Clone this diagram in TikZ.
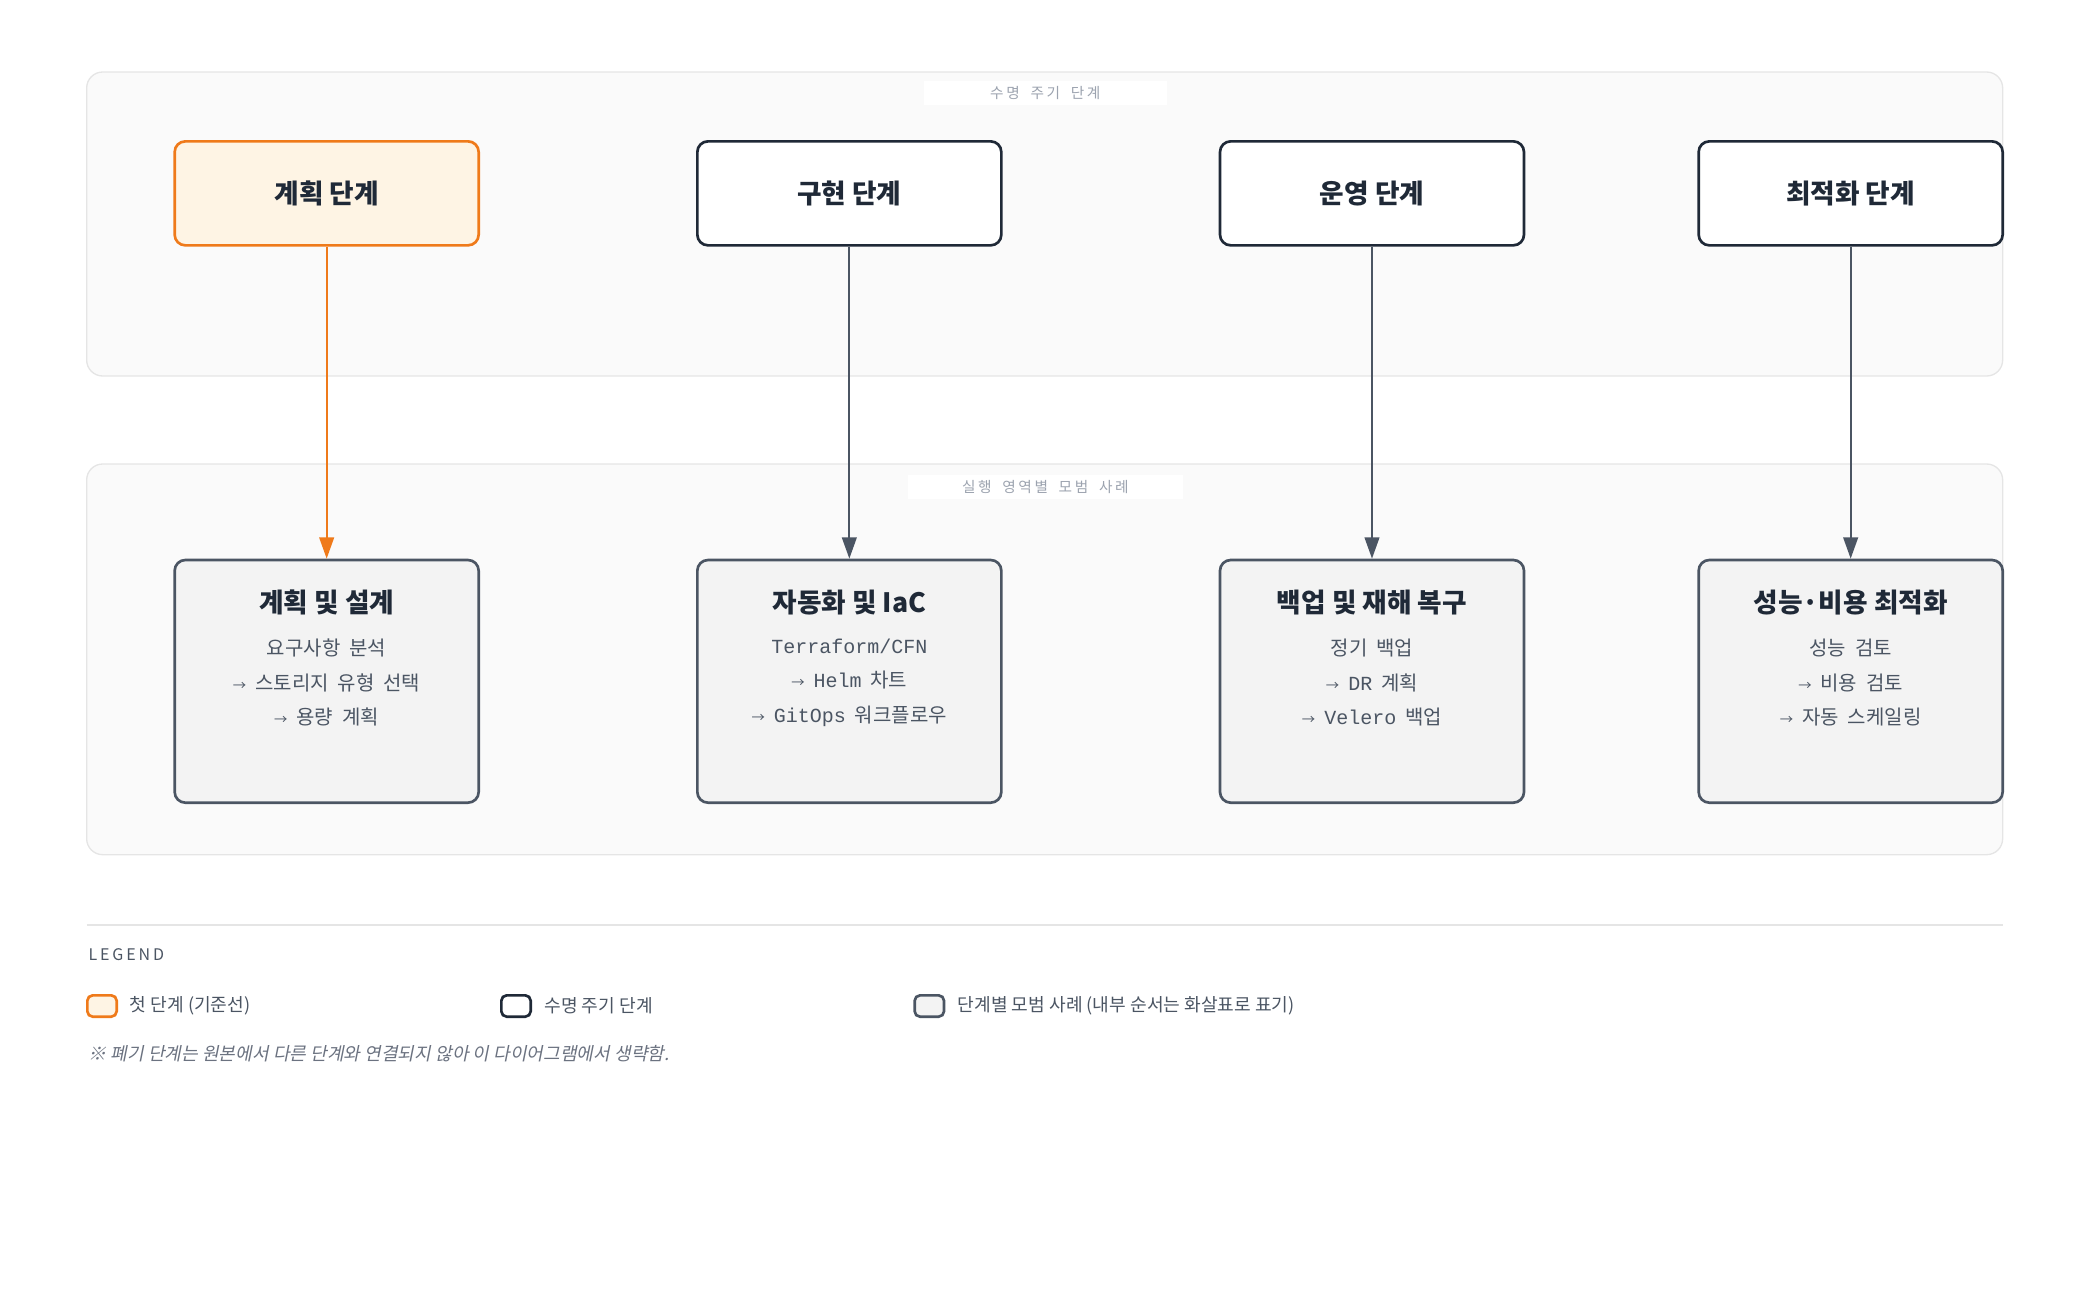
\documentclass[tikz,border=0pt]{standalone}
\usepackage{fontspec}
\setmainfont{Noto Sans CJK KR}
\newfontfamily\mono{Liberation Mono}
\newfontfamily\spaced[LetterSpace=18,WordSpace=1.8]{Noto Sans CJK KR}
\newfontfamily\wide[WordSpace=2]{Noto Sans CJK KR}
\newfontfamily\slanted[FakeSlant=0.2]{Noto Sans CJK KR}
\newcommand\nextstep{{\fontsize{5}{6}\selectfont →}\ }
\usetikzlibrary{arrows.meta}
\definecolor{panelfill}{HTML}{FAFAFA}
\definecolor{panelline}{HTML}{E5E5E5}
\definecolor{orangeline}{HTML}{EF7A1A}
\definecolor{orangefill}{HTML}{FEF4E4}
\definecolor{darkline}{HTML}{1F2937}
\definecolor{grayline}{HTML}{4B5563}
\definecolor{grayfill}{HTML}{F3F3F3}
\definecolor{labeltext}{HTML}{9CA3AF}
\definecolor{bodytext}{HTML}{4B5563}
\definecolor{notetext}{HTML}{6B7280}

\begin{document}
\begin{tikzpicture}[x=0.5pt,y=-0.5pt,
		phase/.style={draw=darkline, line width=1pt, fill=white, rounded corners=4pt, minimum width=114pt, minimum height=39pt, text=darkline, font=\bfseries\fontsize{10}{12}\selectfont},
		first/.style={phase, draw=orangeline, fill=orangefill},
		practice/.style={draw=grayline, line width=1pt, fill=grayfill, rounded corners=4pt, minimum width=114pt, minimum height=91pt},
		title/.style={text=darkline, font=\bfseries\fontsize{10}{12}\selectfont},
		body/.style={text=bodytext, align=center, font=\wide\fontsize{7.5}{13}\selectfont},
		panel/.style={draw=panelline, line width=0.5pt, fill=panelfill, rounded corners=6pt},
		tag/.style={fill=white, minimum width=91pt, minimum height=9pt, inner sep=0pt, text=labeltext, font=\spaced\fontsize{5.5}{6}\selectfont},
		flow/.style={-{Triangle[length=8pt,width=5.5pt]}, line width=0.8pt, draw=grayline},
		swatch/.style={line width=1pt, rounded corners=2pt, minimum width=11pt, minimum height=8pt, inner sep=0pt},
		legendtext/.style={anchor=west, text=bodytext, font=\fontsize{6.8}{8}\selectfont}]
				\useasboundingbox (0,0) rectangle (1560,976);
				% panels
				\draw[panel] (65,54) rectangle (1502,282);
				\draw[panel] (65,348) rectangle (1502,641);
				\node[tag] (T1) at (784,70){수명 주기 단계};
				\node[tag, minimum width=103pt] (T2) at (784,365){실행 영역별 모범 사례};
				% lifecycle phases
				\node[first] (A) at (245,145){계획 단계};
				\node[phase] (B) at (637,145){구현 단계};
				\node[phase] (C) at (1029,145){운영 단계};
				\node[phase] (D) at (1388,145){최적화 단계};
				% best practices
				\node[practice] (a) at (245,511){};
				\node[practice] (b) at (637,511){};
				\node[practice] (c) at (1029,511){};
				\node[practice] (d) at (1388,511){};
				\node[title] (a0) at (245,452){계획 및 설계};
				\node[title] (b0) at (637,452){자동화 및 IaC};
				\node[title] (c0) at (1029,452){백업 및 재해 복구};
				\node[title] (d0) at (1388,452){성능·비용 최적화};
				\node[body] (a1) at (245,512){요구사항 분석\\\nextstep 스토리지 유형 선택\\\nextstep 용량 계획};
				\node[body] (b1) at (637,512){{\mono Terraform/CFN}\\\nextstep {\mono Helm} 차트\\\nextstep {\mono GitOps} 워크플로우};
				\node[body] (c1) at (1029,512){정기 백업\\\nextstep {\mono DR} 계획\\\nextstep {\mono Velero} 백업};
				\node[body] (d1) at (1388,512){성능 검토\\\nextstep 비용 검토\\\nextstep 자동 스케일링};
				\draw[flow, draw=orangeline](A) -- (a);
				\draw[flow](B) -- (b);
				\draw[flow](C) -- (c);
				\draw[flow](D) -- (d);
				% legend
				\draw[panelline, line width=0.75pt] (65,694) -- (1502,694);
				\node[anchor=west, inner sep=0pt, text=bodytext, font=\spaced\fontsize{6}{7}\selectfont] (L) at (66,716){LEGEND};
				\node[swatch, draw=orangeline, fill=orangefill] (S1) at (76.5,754.5){};
				\node[swatch, draw=darkline, fill=white] (S2) at (387,754.5){};
				\node[swatch, draw=grayline, fill=grayfill] (S3) at (697,754.5){};
				\node[legendtext, inner sep=0pt] (L1) at (97,754){첫 단계 (기준선)};
				\node[legendtext, inner sep=0pt] (L2) at (408,754){수명 주기 단계};
				\node[legendtext, inner sep=0pt] (L3) at (718,754){단계별 모범 사례 (내부 순서는 화살표로 표기)};
				\node[anchor=west, inner sep=0pt, text=notetext, font=\slanted\fontsize{6.8}{8}\selectfont] (N) at (66,790){※ 폐기 단계는 원본에서 다른 단계와 연결되지 않아 이 다이어그램에서 생략함.};
			\end{tikzpicture}
\end{document}
